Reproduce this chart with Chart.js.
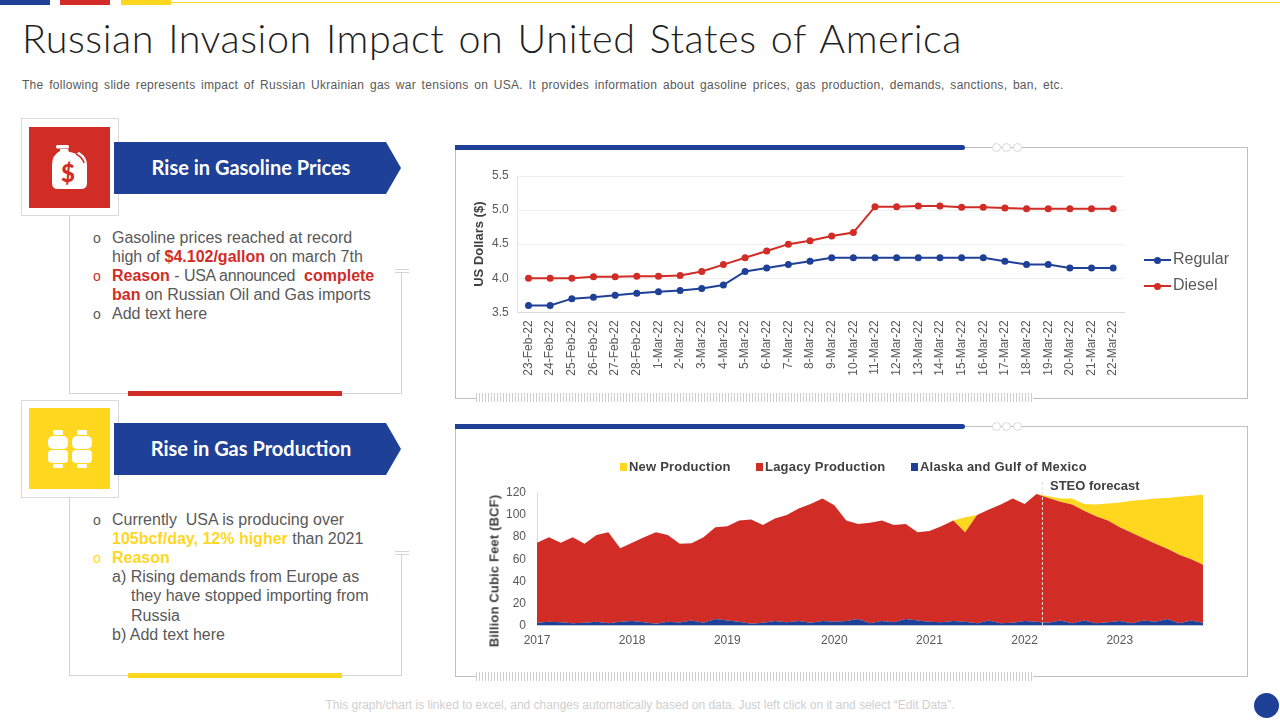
<!DOCTYPE html>
<html>
<head>
<meta charset="utf-8">
<title>Russian Invasion Impact on United States of America</title>
<script src="https://cdn.jsdelivr.net/npm/chart.js@4"></script>
<style>
html, body { margin: 0; padding: 0; background: #fff; }
#slide { position: relative; width: 1280px; height: 720px; overflow: hidden; background: #fff; font-family: "Liberation Sans", Arial, sans-serif; color: #595959; }
#slide div, #slide canvas, #slide svg { position: absolute; }
#title { left: 22px; top: 14px; font: 300 39.5px Lato, sans-serif; letter-spacing: .55px; word-spacing: 3px; color: #1f1f1f; white-space: nowrap; }
#desc { left: 22px; top: 78px; font-size: 12px; letter-spacing: .29px; word-spacing: 2px; color: #595959; white-space: nowrap; }
.banner { left: 114px; width: 287px; height: 52px; background: #1f4097; color: #fff; clip-path: polygon(0 0, 272px 0, 100% 50%, 272px 100%, 0 100%); font: 700 20px/51px Lato, sans-serif; text-align: center; padding-right: 13px; box-sizing: border-box; }
.iconbox { left: 21px; width: 98px; height: 98px; border: 1px solid #d9d9d9; background: #fff; box-sizing: border-box; }
.square { left: 29px; width: 81px; height: 81px; }
.rule { background: #d4d4d4; }
.line { left: 93px; font-size: 16px; line-height: 19px; white-space: nowrap; }
.line b.r { color: #d22c26; }
.line b.y { color: #ffd71f; }
.bul { font-size: 14px; width: 14px; }
.frame { left: 455px; width: 793px; border: 1px solid #bfbfbf; box-sizing: border-box; background: #fff; }
.bluebar { left: 455px; width: 510px; height: 5px; background: #1f4097; border-radius: 0 3px 3px 0; }
.dot { width: 9px; height: 9px; border-radius: 50%; border: 1px solid #d9d9d9; background: #fff; box-sizing: border-box; }
.hatch { left: 476px; width: 557px; height: 9px; background: repeating-linear-gradient(90deg, #cfcfcf 0 1px, #fff 1px 3px); }
#legendLine .item { left: 0; height: 20px; width: 100px; font-size: 16px; line-height: 20px; color: #595959; }
#legendArea .item { top: 0; height: 16px; font-weight: 700; font-size: 13px; letter-spacing: .2px; line-height: 16px; color: #404040; white-space: nowrap; }
#steo { left: 1050px; top: 478px; font-size: 13px; font-weight: 700; color: #404040; white-space: nowrap; }
#areaTitle { left: 494px; top: 571px; font-size: 13px; font-weight: 700; letter-spacing: .15px; color: #404040; white-space: nowrap; transform: translate(-50%, -50%) rotate(-90deg); }
#note { left: 0; width: 1280px; top: 698px; text-align: center; font-size: 12px; color: #cfcfcf; white-space: nowrap; }
</style>
</head>
<body>
<div id="slide">
  <div style="left:0;top:0;width:50px;height:5px;background:#1f4097"></div>
  <div style="left:60px;top:0;width:50px;height:5px;background:#d22c26"></div>
  <div style="left:121px;top:0;width:50px;height:5px;background:#ffd71f"></div>
  <div style="left:171px;top:2px;width:1109px;height:1px;background:#ffd71f"></div>

  <div id="title">Russian Invasion Impact on United States of America</div>
  <div id="desc">The following slide represents impact of Russian Ukrainian gas war tensions on USA. It provides information about gasoline prices, gas production, demands, sanctions, ban, etc.</div>

  <!-- left top panel -->
  <div class="rule" style="left:69px;top:216px;width:1px;height:177px"></div>
  <div class="rule" style="left:69px;top:393px;width:333px;height:1px"></div>
  <div class="rule" style="left:401px;top:272px;width:1px;height:121px"></div>
  <div class="rule" style="left:395px;top:269px;width:14px;height:1px"></div>
  <div class="rule" style="left:395px;top:272px;width:14px;height:1px"></div>
  <div style="left:128px;top:391px;width:214px;height:5px;background:#d22c26"></div>
  <div class="iconbox" style="top:118px"></div>
  <div class="square" style="top:127px;background:#d22c26"></div>
  <svg style="left:29px;top:127px" width="81" height="81" viewBox="0 0 81 81">
    <rect x="27" y="18" width="13" height="3.5" rx="1.5" fill="#fff"/>
    <path d="M31 22h8l1 3c3 0 5 1 7 2l3-2c5 3 8 7 8 13v18q0 6-6 6H29q-6 0-6-6V38q0-10 8-14z" fill="#fff"/>
    <path d="M47 27c4 2 7 5 8 9" stroke="#d22c26" stroke-width="1.6" fill="none"/>
    <text x="39" y="55" text-anchor="middle" font-family="Lato" font-weight="900" font-size="24" fill="#d22c26">$</text>
  </svg>
  <div class="banner" style="top:142px">Rise in Gasoline Prices</div>

  <div class="line bul" style="top:229px">o</div><div class="line" style="left:112px;top:228px">Gasoline prices reached at record</div>
  <div class="line" style="left:112px;top:247px">high of <b class="r">$4.102/gallon</b> on march 7th</div>
  <div class="line bul" style="top:267px;color:#d22c26">o</div><div class="line" style="left:112px;top:266px"><b class="r">Reason</b> - <span style="letter-spacing:-.35px">USA announced</span>&nbsp; <b class="r">complete</b></div>
  <div class="line" style="left:112px;top:285px"><b class="r">ban</b> on Russian Oil and Gas imports</div>
  <div class="line bul" style="top:305px">o</div><div class="line" style="left:112px;top:304px">Add text here</div>

  <!-- left bottom panel -->
  <div class="rule" style="left:69px;top:498px;width:1px;height:177px"></div>
  <div class="rule" style="left:69px;top:675px;width:333px;height:1px"></div>
  <div class="rule" style="left:401px;top:554px;width:1px;height:121px"></div>
  <div class="rule" style="left:395px;top:551px;width:14px;height:1px"></div>
  <div class="rule" style="left:395px;top:554px;width:14px;height:1px"></div>
  <div style="left:128px;top:673px;width:214px;height:5px;background:#ffd71f"></div>
  <div class="iconbox" style="top:400px"></div>
  <div class="square" style="top:408px;background:#ffd71f"></div>
  <svg style="left:29px;top:408px" width="81" height="81" viewBox="0 0 81 81">
    <g fill="#fff">
      <rect x="24" y="22" width="10" height="5" rx="1"/><rect x="19" y="28" width="20" height="13" rx="5"/><rect x="19" y="42" width="20" height="13" rx="4"/><rect x="24" y="56" width="10" height="4" rx="1"/>
      <rect x="48" y="22" width="10" height="5" rx="1"/><rect x="43" y="28" width="20" height="13" rx="5"/><rect x="43" y="42" width="20" height="13" rx="4"/><rect x="48" y="56" width="10" height="4" rx="1"/>
    </g>
  </svg>
  <div class="banner" style="top:423px">Rise in Gas Production</div>

  <div class="line bul" style="top:511px">o</div><div class="line" style="left:112px;top:510px">Currently&nbsp; USA is producing over</div>
  <div class="line" style="left:112px;top:529px"><b class="y">105bcf/day, 12% higher</b> than 2021</div>
  <div class="line bul" style="top:549px;color:#ffd71f">o</div><div class="line" style="left:112px;top:548px"><b class="y">Reason</b></div>
  <div class="line" style="left:112px;top:567px">a) Rising demands from Europe as</div>
  <div class="line" style="left:131px;top:586px">they have stopped importing from</div>
  <div class="line" style="left:131px;top:606px">Russia</div>
  <div class="line" style="left:112px;top:625px">b) Add text here</div>

  <!-- chart frames -->
  <div class="frame" style="top:147px;height:252px"></div>
  <div class="bluebar" style="top:145px"></div>
  <div class="dot" style="left:992px;top:143px"></div><div class="dot" style="left:1002px;top:143px"></div><div class="dot" style="left:1013px;top:143px"></div>
  <div class="hatch" style="top:393px"></div>
  <canvas id="lineChart" width="790" height="247" style="left:456px;top:150px;width:790px;height:247px"></canvas>
  <div id="legendLine" style="left:1144px;top:249px;width:100px;height:50px"></div>

  <div class="frame" style="top:426px;height:251px"></div>
  <div class="bluebar" style="top:424px"></div>
  <div class="dot" style="left:992px;top:422px"></div><div class="dot" style="left:1002px;top:422px"></div><div class="dot" style="left:1013px;top:422px"></div>
  <div class="hatch" style="top:672px"></div>
  <canvas id="areaChart" width="776" height="222" style="left:465px;top:452px;width:776px;height:222px"></canvas>
  <div id="legendArea" style="left:620px;top:458.5px;width:480px;height:16px"></div>
  <div id="steo">STEO forecast</div>
  <div id="areaTitle">Billion Cubic Feet (BCF)</div>

  <div id="note">This graph/chart is linked to excel, and changes automatically based on data. Just left click on it and select “Edit Data”.</div>
  <div style="left:1254px;top:693px;width:25px;height:25px;border-radius:50%;background:#1f4097"></div>
</div>

<script>
// line chart data
var priceDates = ["23-Feb-22", "24-Feb-22", "25-Feb-22", "26-Feb-22", "27-Feb-22", "28-Feb-22", "1-Mar-22", "2-Mar-22", "3-Mar-22", "4-Mar-22", "5-Mar-22", "6-Mar-22", "7-Mar-22", "8-Mar-22", "9-Mar-22", "10-Mar-22", "11-Mar-22", "12-Mar-22", "13-Mar-22", "14-Mar-22", "15-Mar-22", "16-Mar-22", "17-Mar-22", "18-Mar-22", "19-Mar-22", "20-Mar-22", "21-Mar-22", "22-Mar-22"];
var regular = [3.6, 3.6, 3.7, 3.72, 3.75, 3.78, 3.8, 3.82, 3.85, 3.9, 4.1, 4.15, 4.2, 4.25, 4.3, 4.3, 4.3, 4.3, 4.3, 4.3, 4.3, 4.3, 4.25, 4.2, 4.2, 4.15, 4.15, 4.15];
var diesel = [4, 4, 4, 4.02, 4.02, 4.03, 4.03, 4.04, 4.1, 4.2, 4.3, 4.4, 4.5, 4.55, 4.62, 4.67, 5.05, 5.05, 5.06, 5.06, 5.04, 5.04, 5.03, 5.02, 5.02, 5.02, 5.02, 5.02];

// area chart data
var yearLabels = ["2017", "", "", "", "", "", "", "", "2018", "", "", "", "", "", "", "", "2019", "", "", "", "", "", "", "", "", "2020", "", "", "", "", "", "", "", "2021", "", "", "", "", "", "", "", "2022", "", "", "", "", "", "", "", "2023", "", "", "", "", "", "", ""];
var alaska = [2.5, 3.3, 3, 2, 2.5, 3.3, 2, 3.3, 4, 3, 1.5, 3.3, 2.7, 4.5, 2.4, 6, 4.5, 3.3, 1.5, 2.5, 4, 3, 4, 2.4, 4, 3.3, 4, 6, 2, 4, 3, 6, 4.5, 3.5, 3, 4, 3.5, 2, 4.5, 2, 2.5, 4, 3.5, 2.5, 4.5, 2, 4.5, 2, 3, 4, 2, 4.5, 3.5, 6, 2, 4.5, 2.5];
var legacy = [72.5, 76.7, 72, 78, 71.5, 78.7, 82.5, 66.7, 71, 77, 83, 78.7, 71.3, 70, 77.6, 83, 85.5, 91.7, 94.5, 88.5, 93, 97, 102, 107.6, 111, 105.7, 91, 86, 91, 91, 88, 86, 80, 82, 87, 91, 81, 98, 100.5, 107.5, 112.5, 106, 115.5, 113, 107.5, 107.5, 99.5, 97, 92, 85, 82, 74.5, 70.5, 63.5, 62, 55.5, 52.5];
var newProd = [0, 0, 0, 0, 0, 0, 0, 0, 0, 0, 0, 0, 0, 0, 0, 0, 0, 0, 0, 0, 0, 0, 0, 0, 0, 0, 0, 0, 0, 0, 0, 0, 0, 0, 0, 0, 13.5, 0, 0, 0, 0, 0, 0, 1.5, 3, 5.5, 6, 10.5, 15.5, 22.5, 29, 35, 41, 46, 52.5, 57.5, 63.5];
var forecastStart = 42.5; // between the two points either side of the dashed line

var BLUE = "#1f4097", RED = "#d22c26", YELLOW = "#ffd71f";
var TICK = "#595959";
var FONT = "'Liberation Sans', Arial, sans-serif";
Chart.defaults.font.family = FONT;

var lineChart = new Chart(document.getElementById("lineChart").getContext("2d"), {
    type: "line",
    data: {
        labels: priceDates,
        datasets: [
            { label: "Regular", data: regular, borderColor: BLUE, backgroundColor: BLUE, borderWidth: 2, pointRadius: 3.5, pointBorderWidth: 0, tension: 0 },
            { label: "Diesel", data: diesel, borderColor: RED, backgroundColor: RED, borderWidth: 2, pointRadius: 3.5, pointBorderWidth: 0, tension: 0 }
        ]
    },
    options: {
        responsive: false,
        animation: false,
        layout: { padding: { top: 26, right: 122 } },
        plugins: { legend: { display: false }, tooltip: { enabled: false } },
        scales: {
            x: {
                offset: true,
                grid: { display: false },
                border: { color: "#d9d9d9" },
                ticks: { autoSkip: false, minRotation: 90, maxRotation: 90, padding: 0, color: TICK, font: { size: 12 } },
                afterFit: function (s) { s.height = 84.7; }
            },
            y: {
                min: 3.5,
                max: 5.5,
                grid: { color: "#efefef", drawTicks: false },
                border: { color: "#e4e4e4" },
                ticks: { stepSize: 0.5, padding: 9, color: TICK, font: { size: 12 }, callback: function (v) { return v.toFixed(1); } },
                title: { display: true, text: "US Dollars ($)", color: "#404040", font: { size: 13, weight: "bold" }, padding: { top: 16, bottom: 0 } },
                afterFit: function (s) { s.width = 61.7; }
            }
        }
    }
});

// dashed marker where the forecast starts
var forecastLine = {
    id: "forecastLine",
    afterDatasetsDraw: function (chart) {
        var ctx = chart.ctx;
        var x = chart.scales.x.getPixelForValue(forecastStart);
        ctx.save();
        ctx.strokeStyle = "#e2e2e2";
        ctx.lineWidth = 1;
        ctx.setLineDash([3, 2]);
        ctx.beginPath();
        ctx.moveTo(x, chart.chartArea.top - 11);
        ctx.lineTo(x, chart.chartArea.bottom);
        ctx.stroke();
        ctx.restore();
    }
};

var areaChart = new Chart(document.getElementById("areaChart").getContext("2d"), {
    type: "line",
    data: {
        labels: yearLabels,
        datasets: [
            { label: "Alaska and Gulf of Mexico", data: alaska, backgroundColor: BLUE, borderWidth: 0, pointRadius: 0, fill: "origin", tension: 0 },
            { label: "Lagacy Production", data: legacy, backgroundColor: RED, borderWidth: 0, pointRadius: 0, fill: "-1", tension: 0 },
            { label: "New Production", data: newProd, backgroundColor: YELLOW, borderWidth: 0, pointRadius: 0, fill: "-1", tension: 0 }
        ]
    },
    options: {
        responsive: false,
        animation: false,
        layout: { padding: { top: 41, right: 38 } },
        plugins: { legend: { display: false }, tooltip: { enabled: false } },
        scales: {
            x: {
                grid: { display: false, drawTicks: false },
                border: { color: "#d9d9d9" },
                ticks: { autoSkip: false, minRotation: 0, maxRotation: 0, padding: 8, color: TICK, font: { size: 12 } },
                afterFit: function (s) { s.height = 48.5; }
            },
            y: {
                stacked: true,
                min: 0,
                max: 120,
                grid: { display: false, drawTicks: false },
                border: { color: "#d9d9d9" },
                ticks: { stepSize: 20, padding: 11, color: TICK, font: { size: 12 } },
                afterFit: function (s) { s.width = 72; }
            }
        }
    },
    plugins: [forecastLine]
});

// legends are html so the swatches can sit exactly where the slide has them
function addLineLegend(chart, el, rowHeight) {
    chart.data.datasets.forEach(function (ds, i) {
        var top = i * rowHeight;
        var html = '<div style="left:0;top:' + (top + 10) + 'px;width:27px;height:2px;background:' + ds.borderColor + '"></div>' +
            '<div style="left:10px;top:' + (top + 7.5) + 'px;width:7px;height:7px;border-radius:50%;background:' + ds.borderColor + '"></div>' +
            '<div class="item" style="left:29px;top:' + top + 'px">' + ds.label + '</div>';
        el.insertAdjacentHTML("beforeend", html);
    });
}
function addAreaLegend(chart, el, offsets) {
    chart.data.datasets.slice().reverse().forEach(function (ds, i) {
        var html = '<div style="left:' + offsets[i] + 'px;top:4px;width:7px;height:8px;background:' + ds.backgroundColor + '"></div>' +
            '<div class="item" style="left:' + (offsets[i] + 9) + 'px">' + ds.label + '</div>';
        el.insertAdjacentHTML("beforeend", html);
    });
}
addLineLegend(lineChart, document.getElementById("legendLine"), 26);
addAreaLegend(areaChart, document.getElementById("legendArea"), [0, 136, 291]);
</script>
</body>
</html>
